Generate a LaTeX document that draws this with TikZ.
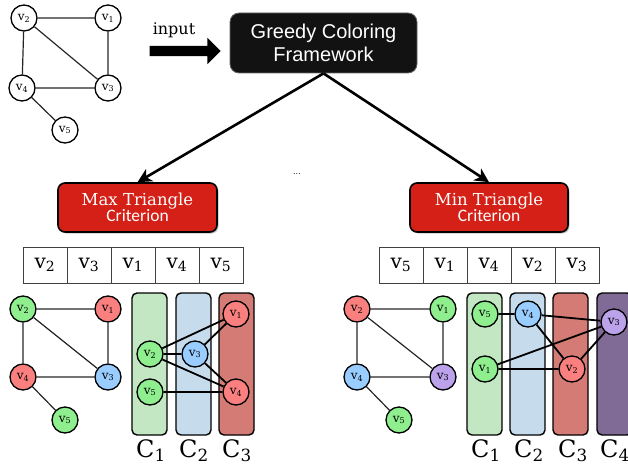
\documentclass[tikz,border=0pt]{standalone}
\usepackage{fontspec}
\setmainfont{DejaVu Serif}
\newfontfamily\arialf{Liberation Sans}
\newfontfamily\calf{Carlito}
\usetikzlibrary{shapes.arrows,arrows.meta,shadows}
\definecolor{ngreen}{HTML}{8FEF8F}
\definecolor{nred}{HTML}{FA8080}
\definecolor{nblue}{HTML}{99CCFF}
\definecolor{npurple}{HTML}{BBA2EA}
\definecolor{cgreen}{HTML}{C3E6C3}
\definecolor{cblue}{HTML}{C6DCED}
\definecolor{cred}{HTML}{D37B74}
\definecolor{cpurple}{HTML}{806A96}
\definecolor{critred}{HTML}{D42016}
\newcommand\vlab[1]{v\textsubscript{#1}}
\begin{document}
\begin{tikzpicture}[x=1pt,y=-1pt,
  vtx/.style={circle,draw=black,line width=1.3pt,minimum size=26pt,inner sep=0pt,
    font=\fontsize{12}{12}\selectfont},
  gedge/.style={line width=1.2pt,draw=black!85},
  cedge/.style={line width=1.8pt,draw=black},
  colbox/.style={draw=black,line width=1.4pt,rounded corners=5pt,minimum width=35pt,minimum height=142pt,inner sep=0pt},
  cell/.style={draw=black!75,line width=0.8pt,minimum width=44pt,minimum height=36pt,inner sep=0pt,
    font=\fontsize{20}{20}\selectfont},
  clab/.style={font=\fontsize{24}{24}\selectfont,inner sep=0pt},
  critbox/.style={draw=black,line width=1.6pt,fill=critred,rounded corners=7pt,
    minimum width=159pt,minimum height=49pt,text=white,align=center,inner sep=0pt,
    drop shadow={shadow xshift=1.5pt,shadow yshift=-1.5pt,opacity=0.45}},
  bigarrow/.style={line width=2.6pt,-{Stealth[length=14pt,width=14pt,inset=4pt]}}
]
\useasboundingbox (0,0) rectangle (628,468);

% input graph
\node[vtx,fill=white] (a2) at (24,18) {\vlab{2}};
\node[vtx,fill=white] (a1) at (108,18) {\vlab{1}};
\node[vtx,fill=white] (a4) at (22,88) {\vlab{4}};
\node[vtx,fill=white] (a3) at (108,88) {\vlab{3}};
\node[vtx,fill=white] (a5) at (65,130) {\vlab{5}};
\draw[gedge] (a2)--(a1) (a2)--(a4) (a2)--(a3) (a1)--(a3) (a4)--(a3) (a4)--(a5);

% input arrow
\node[single arrow,fill=black,minimum height=71pt,minimum width=26pt,inner sep=5pt,
  single arrow head extend=8pt,single arrow tip angle=90] (inarrow) at (182.5,51) {};
\node[font=\fontsize{16}{16}\selectfont,inner sep=0pt] (inlab) at (174,30) {input};

% framework
\node[fill=black!93,draw=black!60,line width=0.8pt,rounded corners=9pt,minimum width=187pt,minimum height=60pt,
  text=white,align=center,font=\arialf\fontsize{20}{23}\selectfont,inner sep=0pt] (greedy) at (323.5,43)
  {Greedy Coloring\\Framework};

% criterion boxes
\node[critbox] (maxc) at (137.5,207.5) {{\fontsize{16.5}{20}\selectfont Max Triangle}\\[-1pt]{\calf\fontsize{17.5}{19}\selectfont Criterion}};
\node[critbox,minimum width=158pt] (minc) at (489,207.5) {{\fontsize{16.5}{20}\selectfont Min Triangle}\\[-1pt]{\calf\fontsize{17.5}{19}\selectfont Criterion}};
\node[font=\fontsize{8}{8}\selectfont,inner sep=0pt] (dots) at (297,174) {...};

\draw[bigarrow] (greedy.south) -- (maxc.north);
\draw[bigarrow] (greedy.south) -- (minc.north);

% order arrays
\node[cell] (p1) at (45,265) {\vlab{2}};
\node[cell] (p2) at (89,265) {\vlab{3}};
\node[cell] (p3) at (133,265) {\vlab{1}};
\node[cell] (p4) at (177,265) {\vlab{4}};
\node[cell] (p5) at (221,265) {\vlab{5}};
\node[cell] (q1) at (401,265) {\vlab{5}};
\node[cell] (q2) at (445,265) {\vlab{1}};
\node[cell] (q3) at (489,265) {\vlab{4}};
\node[cell] (q4) at (533,265) {\vlab{2}};
\node[cell] (q5) at (577,265) {\vlab{3}};

% left colored graph
\node[vtx,fill=ngreen] (b2) at (23,309) {\vlab{2}};
\node[vtx,fill=nred] (b1) at (108,309) {\vlab{1}};
\node[vtx,fill=nred] (b4) at (23,377) {\vlab{4}};
\node[vtx,fill=nblue] (b3) at (108,377) {\vlab{3}};
\node[vtx,fill=ngreen] (b5) at (65,420) {\vlab{5}};
\draw[gedge] (b2)--(b1) (b2)--(b4) (b2)--(b3) (b1)--(b3) (b4)--(b3) (b4)--(b5);

% left columns
\node[colbox,fill=cgreen] (lc1) at (149.5,364) {};
\node[colbox,fill=cblue] (lc2) at (193.5,364) {};
\node[colbox,fill=cred] (lc3) at (236.5,364) {};
\node[vtx,fill=ngreen] (l2) at (150,354) {\vlab{2}};
\node[vtx,fill=ngreen] (l5) at (150,392) {\vlab{5}};
\node[vtx,fill=nblue] (l3) at (195,354) {\vlab{3}};
\node[vtx,fill=nred] (l1) at (236,314) {\vlab{1}};
\node[vtx,fill=nred] (l4) at (236,392) {\vlab{4}};
\draw[cedge] (l2)--(l1) (l2)--(l3) (l2)--(l4) (l3)--(l1) (l3)--(l4) (l5)--(l4);
\node[clab] (lt1) at (151,451) {C\textsubscript{1}};
\node[clab] (lt2) at (194,451) {C\textsubscript{2}};
\node[clab] (lt3) at (237,451) {C\textsubscript{3}};

% right colored graph
\node[vtx,fill=nred] (d2) at (357,309) {\vlab{2}};
\node[vtx,fill=ngreen] (d1) at (443,309) {\vlab{1}};
\node[vtx,fill=nblue] (d4) at (357,377) {\vlab{4}};
\node[vtx,fill=npurple] (d3) at (443,377) {\vlab{3}};
\node[vtx,fill=ngreen] (d5) at (399,420) {\vlab{5}};
\draw[gedge] (d2)--(d1) (d2)--(d4) (d2)--(d3) (d1)--(d3) (d4)--(d3) (d4)--(d5);

% right columns
\node[colbox,fill=cgreen] (rc1) at (484.5,364) {};
\node[colbox,fill=cblue] (rc2) at (527.5,364) {};
\node[colbox,fill=cred] (rc3) at (570.5,364) {};
\node[colbox,fill=cpurple] (rc4) at (614.5,364) {};
\node[vtx,fill=ngreen] (m5) at (485,314) {\vlab{5}};
\node[vtx,fill=ngreen] (m1) at (485,369) {\vlab{1}};
\node[vtx,fill=nblue] (m4) at (528,314) {\vlab{4}};
\node[vtx,fill=nred] (m2) at (572,369) {\vlab{2}};
\node[vtx,fill=npurple] (m3) at (614,322) {\vlab{3}};
\draw[cedge] (m5)--(m4) (m4)--(m3) (m4)--(m2) (m1)--(m3) (m1)--(m2) (m2)--(m3);
\node[clab] (rt1) at (486,451) {C\textsubscript{1}};
\node[clab] (rt2) at (529,451) {C\textsubscript{2}};
\node[clab] (rt3) at (573,451) {C\textsubscript{3}};
\node[clab] (rt4) at (615,451) {C\textsubscript{4}};
\end{tikzpicture}
\end{document}
